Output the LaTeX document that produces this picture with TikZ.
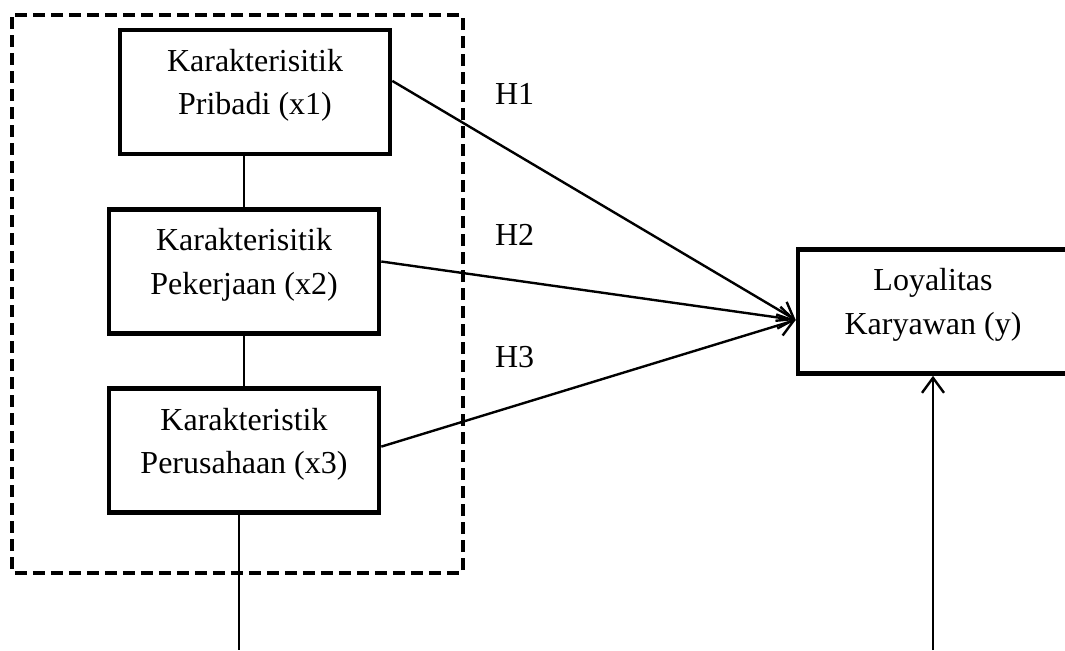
\documentclass[tikz,border=0pt]{standalone}
\usepackage{fontspec}
\setmainfont{Liberation Serif}
\usetikzlibrary{arrows.meta, positioning}

\begin{document}
\begin{tikzpicture}[
  x=0.5pt, y=-0.5pt,
  >={Straight Barb[length=7.5pt, width=11pt]},
  every node/.style={font=\fontsize{16}{21.7}\selectfont, align=center},
  box/.style={draw, line width=2.3pt, minimum width=135pt, minimum height=62pt, text depth=10pt},
  link/.style={line width=0.7pt},
  arr/.style={->, line width=1.2pt},
  frame/.style={draw, line width=2.3pt, dash pattern=on 6pt off 3pt, rounded corners=1pt}
]
\useasboundingbox (0,0) rectangle (1065,650);

% Kotak variabel X
\node[box] (x2) at (244,271.5) {Karakterisitik \\ Pekerjaan (x2)};
\node[box, above=25.5pt of x2, xshift=5.5pt] (x1) {Karakterisitik \\ Pribadi (x1)};
\node[box, below=25.25pt of x2] (x3) {Karakteristik \\ Perusahaan (x3)};

% Variabel Y
\node[box] (ly) at (933,311.5) {Loyalitas \\ Karyawan (y)};

% Bingkai putus-putus
\draw[frame] (12,15) rectangle (463,573);

% Garis penghubung
\draw[link] (x2.north |- x1.south) -- (x2.north);
\draw[link] (x2) -- (x3);
\coordinate (xbot) at (239,650);
\draw[link] (xbot |- x3.south) -- (xbot);

% Hipotesis
\coordinate (tip) at ([yshift=-4.25pt]ly.west);
\draw[arr] ([yshift=5.5pt]x1.east) -- (tip);
\draw[arr] ([yshift=5pt]x2.east) -- (tip);
\draw[arr] ([yshift=2pt]x3.east) -- (tip);
\node[anchor=base west] (h1) at (488,104) {H1};
\node[anchor=base west] (h2) at (488,245) {H2};
\node[anchor=base west] (h3) at (488,367) {H3};

% Panah dari bawah
\coordinate (ybot) at (933,650);
\draw[arr] (ybot) -- (ly.south);

\end{tikzpicture}
\end{document}
